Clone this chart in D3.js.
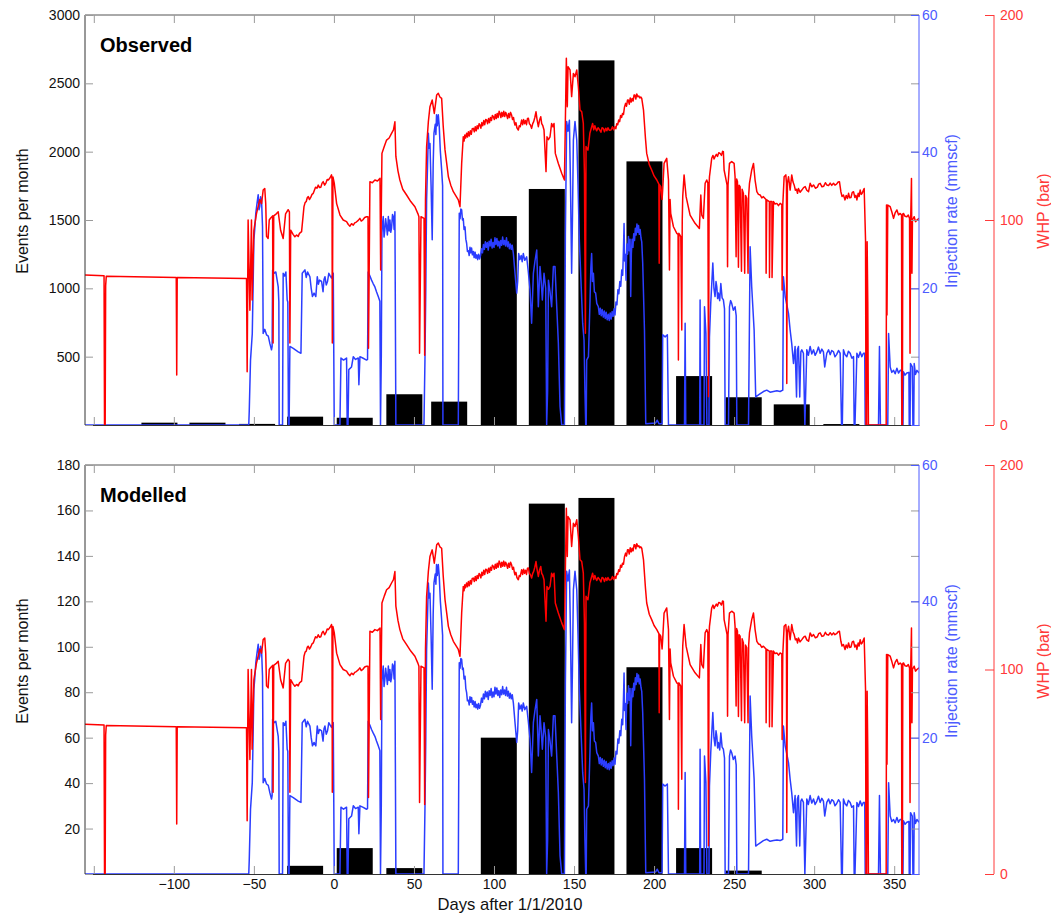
<!DOCTYPE html>
<html>
<head>
<meta charset="utf-8">
<script src="https://cdn.jsdelivr.net/npm/d3@7"></script>
<style>
  html, body { margin: 0; padding: 0; background: #fff; }
  svg { display: block; font-family: "Liberation Sans", Arial, Helvetica, sans-serif; }
</style>
</head>
<body>
<svg id="chart" width="1051" height="916"></svg>
<script>
// Monthly seismic event counts (bars) against well-head pressure and injection rate.
const months = ["2009-09", "2009-10", "2009-11", "2009-12", "2010-01", "2010-02", "2010-03", "2010-04",
                "2010-05", "2010-06", "2010-07", "2010-08", "2010-09", "2010-10", "2010-11", "2010-12"];
const observedEvents = [17, 17, 8, 61, 53, 225, 171, 1529, 1727, 2668, 1929, 358, 203, 151, 7, 0];
const modelledEvents = [0, 0, 0, 3.6, 11.4, 2.6, 0, 60, 163, 165.5, 91, 11.4, 1.5, 0, 0, 0];

const xTicks = [-150, -100, -50, 0, 50, 100, 150, 200, 250, 300, 350];
const observedTicks = [0, 500, 1000, 1500, 2000, 2500, 3000];
const modelledTicks = [0, 20, 40, 60, 80, 100, 120, 140, 160, 180];
const rateTicks = [0, 20, 40, 60];
const whpTicks = [0, 100, 200];

// Well-head pressure (bar), [day after 1/1/2010, value]
const whp = [
  [-155.5, 73.2], [-143.6, 72.8], [-143.3, 0], [-142.9, 0], [-142.6, 68], [-142.2, 72.6],
  [-98.5, 72.0], [-98.2, 24.4], [-97.9, 72.0],
  [-54.6, 71.5], [-54.2, 26.0], [-53.6, 100], [-52.5, 56], [-51.5, 100], [-51.1, 61], [-50, 95],
  [-48.4, 103], [-47.5, 106], [-46.3, 110], [-45.2, 108], [-44.2, 114.6], [-43.2, 115.4], [-42.6, 108],
  [-42.1, 92], [-41.1, 91], [-40.4, 100], [-39.5, 101], [-38.3, 102], [-38.0, 40], [-37.6, 102],
  [-36, 103], [-34.8, 104], [-33.3, 95], [-31.7, 91], [-30.2, 103], [-28.6, 105], [-27.8, 104],
  [-27.5, 40], [-27.0, 95], [-25.5, 93], [-24.4, 91.8], [-23.3, 92.7], [-22.3, 92], [-21.5, 93.5],
  [-20.2, 94.3], [-18.7, 106.5], [-18, 108.5], [-17.3, 109], [-16.6, 111], [-16.0, 111.4],
  [-15.3, 110], [-14.5, 111], [-13.7, 112.5], [-12.9, 113], [-12.2, 114.5], [-11.5, 116],
  [-10.6, 115.5], [-9.8, 117], [-9, 115.8], [-8.2, 116], [-7.4, 118], [-6.7, 118.7], [-5.8, 117],
  [-5, 118], [-4.2, 119.8], [-3.5, 119.5], [-2.5, 120.5], [-1.5, 122], [-1.2, 120], [-1.0, 40],
  [-0.6, 121], [0.2, 118], [1.7, 108], [3.8, 102.4], [5.8, 100], [7.9, 99.2], [9, 97.8], [10, 97],
  [11, 98.2], [12.1, 97.5], [13, 98.6], [14, 99], [15.2, 99.8], [16.2, 100.8], [17.1, 99.5], [18, 100],
  [19.2, 101.2], [20.4, 101.6], [21.3, 101.6], [21.6, 37.4], [22.5, 118.7], [24, 118.2], [25.6, 119.5],
  [27.2, 119], [28.8, 120.3], [29.2, 75.6], [30.0, 132.5], [31.5, 136], [32.9, 139], [34.5, 140],
  [36.0, 142.3], [37.2, 144], [38.1, 147.9], [38.7, 131], [40, 124], [41.2, 119.5], [43, 115],
  [45.4, 112.2], [48, 109], [50.6, 106.5], [52.5, 103], [53.1, 101.6], [53.5, 35], [54.4, 101.6],
  [56.3, 100.8], [56.7, 34], [57.2, 110], [57.9, 135.7], [59, 148], [60.0, 155.3], [61.4, 158.5],
  [62.7, 152], [64.2, 161], [65.2, 161.8], [66.2, 160], [67.3, 159.3], [68.3, 145.5], [69.4, 134.2],
  [71.5, 121.1], [73, 117], [74.6, 113.8], [77.7, 109.8], [78.75, 106.5], [79.8, 127.6],
  [80.8, 140.6], [81.3, 138.5], [81.8, 141.5], [82.3, 140], [82.9, 142.3], [83.5, 140.5], [84, 143],
  [84.6, 141], [85.2, 143.5], [85.8, 141.8], [86.4, 144.5], [87.1, 144.7], [87.7, 143], [88.3, 145.5],
  [88.9, 143.5], [89.5, 146], [90.1, 144.5], [90.7, 147], [91.25, 146.3], [91.8, 144.8], [92.4, 147.5],
  [93, 146], [93.6, 148.5], [94.2, 146.5], [94.8, 149], [95.4, 148.8], [96, 147], [96.6, 149.5],
  [97.2, 147.5], [97.8, 150], [98.4, 148.5], [99, 151], [99.6, 150.4], [100.2, 149], [100.8, 151.5],
  [101.4, 149.5], [102, 152], [102.6, 150], [103.2, 153], [103.75, 152], [104.3, 150], [104.9, 152.5],
  [105.5, 150.5], [106.1, 153], [106.7, 150.5], [107.3, 152.5], [107.9, 151.2], [108.5, 149.5],
  [109.1, 152], [109.7, 150], [110.3, 152.5], [111.0, 151.2], [111.6, 149], [112.2, 150],
  [112.7, 147.5], [113.1, 146.3], [113.7, 147.5], [114.3, 145], [115.2, 143.9], [115.8, 146],
  [116.4, 145.5], [117.3, 148.8], [117.9, 146.5], [118.5, 149], [119.1, 147], [119.7, 148.5],
  [120.3, 146.5], [120.9, 149.5], [121.5, 149.6], [122.1, 147], [122.7, 146.5], [123.5, 144.7],
  [124.2, 147], [124.8, 148], [125.5, 150], [126.25, 152.8], [126.9, 149], [127.7, 145.5],
  [128.4, 148.5], [129.2, 150.4], [129.8, 147], [130.5, 146], [131.25, 143.9], [132.5, 123.6],
  [133.1, 140.6], [134, 139.2], [135.0, 140.6], [136.0, 147.1], [136.8, 145.5], [137.5, 147.1],
  [138.3, 132.5], [140.2, 127.6], [142.3, 122.8], [144.0, 119.5], [144.6, 148.8], [145.2, 178.9],
  [145.8, 155.3], [146.25, 174.8], [147.5, 173.2], [148.5, 160.2], [149.6, 171.5], [150.6, 169.9],
  [151.7, 173.2], [152.7, 165], [153.75, 153.7], [154.8, 152.8], [155.8, 147.1], [156.5, 122.8],
  [157.1, 44.7], [157.5, 135.8], [158.7, 134.1], [159.9, 142.3], [161.6, 147.1], [162.3, 144],
  [163, 146], [163.5, 144.7], [164.2, 143.5], [165, 145], [166, 144], [166.8, 142.8], [167.5, 145],
  [168.3, 144.7], [169, 143], [169.8, 144.8], [170.5, 143.5], [171.2, 145], [172, 143.8],
  [173.1, 143.9], [174, 145.5], [174.7, 144], [175.5, 145.5], [176.1, 144.5], [176.7, 147],
  [177.3, 146.5], [177.9, 148.8], [178.5, 148], [179.1, 151], [179.7, 150], [180.3, 152],
  [180.9, 151.5], [181.5, 155], [182.2, 156.9], [182.8, 155.5], [183.4, 158.5], [183.9, 158.5],
  [184.5, 156.5], [185.1, 159.5], [185.7, 157.5], [186.3, 159.3], [186.9, 158], [187.5, 161],
  [188, 161], [188.6, 159], [189.2, 161.5], [189.9, 160.1], [190.5, 160.5], [191.1, 159.5],
  [191.7, 160], [192.3, 159.3], [193.4, 153.6], [194.6, 140], [195.4, 132.5], [197, 127],
  [198.5, 124.4], [200, 121.5], [201.7, 119.5], [203.0, 117.5], [203.2, 78.9], [203.5, 117.1],
  [204.2, 116.3], [205.0, 110], [205.4, 115], [206.25, 127.6], [207.9, 130.1], [209.0, 119.5],
  [209.6, 75.6], [210.0, 110], [210.4, 103.2], [212.1, 96.7], [214.2, 93.5], [215.0, 93],
  [215.2, 31.7], [215.5, 93.5], [216.7, 91.9], [217.3, 46.3], [217.6, 100], [217.9, 111.4],
  [218.75, 122], [220.0, 111.4], [222.5, 102.4], [225.6, 98.4], [228.3, 95.9], [229.2, 112.2],
  [229.8, 102.4], [230.8, 100.8], [231.9, 117.9], [232.9, 119.5], [233.6, 118], [234.0, 13.8],
  [234.4, 118], [234.6, 121.1], [236.0, 130.1], [236.8, 131.5], [237.5, 129.8], [238.1, 130.9],
  [238.9, 132], [239.6, 131], [240.4, 132.8], [241.25, 132.5], [242.1, 131.5], [242.8, 133.5],
  [243.3, 133.3], [243.75, 124.4], [245.0, 119.5], [245.6, 117], [245.9, 77.2], [246.2, 117],
  [247.1, 127.6], [248.5, 128.5], [250.0, 127.6], [250.6, 121.1], [251.25, 82.1], [251.6, 120],
  [252.1, 118.7], [252.7, 77], [253.1, 117], [253.75, 116.3], [254.6, 75], [255.0, 115], [255.8, 113],
  [256.6, 74], [257.1, 112], [257.9, 110.6], [258.7, 74], [259.1, 112], [259.6, 117.9], [261.0, 124.4],
  [262.1, 127.6], [263.1, 119.5], [264.2, 113.8], [265.2, 112.5], [266.25, 112.2], [267.3, 110.8],
  [268.3, 111.4], [269.9, 110], [270.0, 74], [270.4, 109.8], [272.0, 109], [272.1, 72], [272.5, 109],
  [273.6, 109], [273.7, 72], [274.6, 109], [275.6, 107.8], [276.7, 108.1], [277.7, 107], [278.75, 108.1],
  [279.8, 107.5], [280.0, 65.8], [280.4, 107.3], [281.25, 121.1], [282.3, 122], [282.7, 118],
  [282.9, 20.3], [283.3, 118], [284.0, 121.1], [285.0, 114.6], [286.0, 122], [286.8, 118.5],
  [287.5, 117.1], [288.3, 114.5], [289, 115], [289.6, 113], [290.2, 115.4], [291.2, 113.5],
  [292.3, 114.6], [293.4, 115.8], [294.4, 116.3], [295.4, 114.5], [296.5, 113.8], [297.5, 117.9],
  [298.6, 116.2], [299.6, 117.1], [300.8, 115.5], [302, 116], [302.8, 117.5], [303.75, 117.9],
  [304.9, 116.2], [306, 116.5], [307, 118.2], [307.9, 117.1], [309, 116.8], [310, 118], [311, 116.9],
  [312.1, 117.9], [313, 117], [314, 117.5], [315, 118.5], [315.8, 118.7], [316.7, 113.8],
  [317.4, 111.5], [318.3, 112.2], [319.3, 109.8], [320, 112], [320.8, 110.5], [321.5, 113],
  [322.2, 110.8], [323, 111], [323.8, 113.5], [324.6, 113.8], [325.4, 111], [326.1, 112],
  [326.7, 109.8], [327.5, 113], [328.1, 111.5], [328.75, 114.6], [329.4, 112.5], [330, 113],
  [330.6, 114.2], [331.25, 115.4], [332.1, 90.2], [332.4, 0], [332.8, 0], [333.1, 89.4],
  [333.5, 60], [333.9, 0], [345.0, 0], [345.2, 107.3], [345.5, 53.7], [346.0, 107.3], [347.5, 106.5],
  [348.5, 104], [349.6, 100.8], [350.6, 103.5], [351.7, 104.9], [352.7, 102.5], [353.75, 103.2],
  [354.6, 102.4], [354.8, 0], [355.1, 0], [355.4, 103], [355.8, 103.2], [356.8, 101.8],
  [357.9, 101.6], [358.8, 102.4], [359.6, 100.8], [359.9, 35], [360.3, 100], [360.8, 120.3],
  [361.1, 74], [361.4, 100], [362.5, 101.6], [363.3, 99.2], [364.2, 100], [365.5, 100.8]
];

// Injection rate (mmscf), [day after 1/1/2010, value]
const injection = [
  [-155.5, 0], [-53.2, 0], [-52.9, 2], [-52.1, 9.5], [-51.0, 13.4], [-50.5, 20], [-50.0, 27.1],
  [-49.5, 28.5], [-48.8, 31.0], [-48, 32.5], [-47.3, 33.7], [-46.8, 31.5], [-46.3, 32.0], [-45.8, 33.4],
  [-45.2, 32.9], [-44.6, 29.0], [-44.2, 13.4], [-43.2, 14], [-42.1, 13.2], [-41, 13.0], [-40.0, 11.9],
  [-39.0, 11.0], [-38.6, 11.5], [-38.3, 22.7], [-37.3, 22.2], [-36.3, 22.4], [-34.8, 20.2], [-34.4, 18],
  [-34.2, 0], [-32.1, 0], [-31.7, 22.2], [-30.8, 21.8], [-30.0, 22.4], [-29.2, 18.3], [-28.8, 18],
  [-28.4, 0], [-28.0, 0], [-27.5, 11.5], [-25.4, 11.2], [-22.3, 10.7], [-20.6, 10.5], [-19.8, 22.2],
  [-18.1, 22.7], [-17.3, 21.6], [-16.5, 22.4], [-15.0, 21.7], [-14.2, 20], [-13.4, 18.8], [-12.4, 19.3],
  [-11.3, 18.8], [-10.4, 21.7], [-9.7, 20.6], [-9, 21.2], [-7.7, 21.0], [-6.8, 19.5], [-6.2, 21.3],
  [-5.6, 21.7], [-4.8, 20.5], [-4, 21], [-3.2, 22.2], [-2.5, 21.9], [-1.5, 21.5], [-0.4, 22.2],
  [0.2, 0], [3.75, 0], [4.4, 9.8], [6, 9.5], [7.9, 9.8], [8.3, 0], [8.8, 0], [9.3, 8.1],
  [11.0, 8.5], [12.1, 10.0], [13.5, 9.6], [15.2, 9.8], [15.6, 5.9], [16.25, 10.0], [18, 9.8],
  [20.4, 9.5], [21.0, 9.6], [21.4, 22.4], [22.5, 21.8], [23.5, 21.2], [24.5, 20.7], [25.6, 20.2],
  [26.6, 19.5], [27.7, 18.8], [28.7, 18.1], [29.1, 0], [29.6, 10], [30.0, 28.1], [30.4, 29.5],
  [30.8, 30.5], [31.3, 27.5], [31.8, 28.5], [32.3, 30.2], [32.9, 29.0], [33.4, 27.8], [34, 30.5],
  [34.5, 28.4], [35.0, 30.0], [35.5, 28.2], [36, 28.8], [36.6, 30.8], [37.1, 30.5], [37.6, 28.6],
  [38.1, 31.2], [38.7, 0], [56.25, 0], [56.9, 10.0], [57.4, 20], [57.9, 32.9], [58.5, 38],
  [59.0, 42.7], [59.5, 40.5], [60.0, 41.2], [60.7, 35], [61.4, 27.1], [62.0, 38], [62.5, 42.7],
  [63.3, 44], [63.7, 42.5], [64.1, 45.4], [64.6, 43.8], [65.2, 45.4], [65.8, 43.7], [66.5, 40],
  [67.3, 37.3], [67.9, 35], [68.1, 0], [77.7, 0], [78.3, 31.0], [78.8, 30.2], [79.3, 31.6],
  [79.8, 31.5], [80.3, 30.0], [80.8, 30.2], [81.3, 28.6], [81.9, 29.0], [82.4, 27.2], [82.9, 26.6],
  [83.4, 25.4], [84, 25.5], [84.5, 24.8], [85, 26.0], [85.5, 25.2], [86, 25.9], [86.5, 24.9],
  [87.1, 25.4], [87.6, 24.5], [88.2, 25.3], [88.7, 24.4], [89.3, 24.9], [89.8, 24.2], [90.4, 25.0],
  [91, 24.3], [91.6, 24.8], [92.2, 25.8], [92.8, 25.2], [93.4, 26.4], [94, 25.7], [94.6, 26.8],
  [95.2, 26.0], [95.8, 26.7], [96.4, 25.6], [97, 26.9], [97.6, 26.2], [98.2, 27.2], [98.8, 25.9],
  [99.4, 26.7], [100, 26.0], [100.6, 27.4], [101.2, 26.4], [101.8, 27.3], [102.4, 26.2], [103, 26.9],
  [103.6, 25.9], [104.2, 27.0], [104.8, 26.3], [105.4, 27.5], [106, 26.4], [106.6, 27.0],
  [107.2, 26.2], [107.8, 27.4], [108.4, 26.1], [109, 26.8], [109.6, 25.8], [110.2, 26.5],
  [110.8, 25.7], [111.4, 26.3], [112.1, 25.1], [113.2, 22], [114.2, 19.3], [114.8, 21], [115.4, 25.1],
  [116.2, 24.2], [117, 24.8], [117.6, 23.9], [118.3, 25.1], [119.2, 24.1], [120.4, 24.6],
  [121.4, 22.5], [122.5, 19.8], [123.5, 14.9], [124.6, 22.2], [125.6, 24], [126.7, 25.6],
  [127.7, 17.3], [128.75, 23.2], [129.5, 21], [130.2, 18.3], [131.25, 22.2], [132.3, 20], [132.9, 0],
  [133.5, 5], [134.0, 21.2], [135, 19.5], [136.0, 17.3], [137.1, 23.2], [138.1, 23.2], [139.2, 17.3],
  [140.2, 12], [141.25, 2.7], [142.3, 0], [144.0, 0], [144.6, 28.0], [145.4, 44.4], [146.2, 43],
  [147.1, 44.6], [147.8, 35], [148.5, 22.2], [149.0, 30], [149.6, 41.7], [150.6, 44.4], [151.7, 41.7],
  [152.5, 35], [153.3, 27.1], [154.4, 20.7], [155.4, 14.9], [156.25, 12.4], [156.8, 5], [157.3, 0],
  [157.6, 0], [157.9, 9.5], [159.0, 10.0], [160.0, 18.3], [160.5, 23], [161.0, 25.1], [161.5, 21],
  [162.1, 22.2], [162.7, 19.5], [163.5, 19.3], [164.2, 17.8], [165.2, 17.3], [165.8, 16.2],
  [166.4, 17.1], [167, 16.0], [167.6, 16.9], [168.3, 15.8], [168.9, 16.7], [169.5, 15.6],
  [170.1, 16.5], [170.7, 15.4], [171.4, 16.2], [172, 15.3], [172.6, 16.4], [173.2, 15.5],
  [173.8, 16.6], [174.4, 15.9], [175, 17.0], [175.6, 16.1], [176.2, 18.0], [176.8, 17.6],
  [177.4, 19.8], [178, 19.2], [178.6, 21.0], [179.2, 20.3], [179.8, 22.7], [180.4, 21.9], [180.9, 26],
  [181.25, 29.5], [181.6, 24], [182.0, 25], [182.5, 21.2], [183.0, 26.5], [183.5, 25], [184.0, 27.6],
  [184.5, 25.5], [185.0, 27.2], [185.4, 18.8], [185.8, 25], [186.3, 27.2], [186.8, 26.0],
  [187.3, 28.0], [187.8, 27.0], [188.3, 28.8], [188.8, 27.8], [189.3, 29.4], [189.8, 28.2],
  [190.3, 29.2], [190.8, 27.9], [191.3, 28.6], [191.8, 27.4], [192.3, 26.8], [192.9, 23.7],
  [194.0, 13.9], [194.8, 0.2], [201, 0.3], [202, 0.7], [203, 0.2], [205.0, 0.2], [205.4, 13.2],
  [206.9, 12.9], [208.3, 13.2], [209.0, 0], [219.0, 0], [219.4, 14.9], [219.8, 0], [228.5, 0],
  [228.75, 18.3], [229.1, 0], [231.2, 0], [231.5, 17.3], [232.4, 13.4], [233.0, 0], [234.3, 0],
  [234.6, 12.9], [235.4, 17.8], [236.0, 20.5], [236.7, 23.7], [237.4, 20], [238.1, 18.8], [238.7, 21],
  [239.2, 20.2], [239.7, 18.5], [240.2, 19.3], [241, 18.2], [241.7, 20.7], [242.5, 18.6], [243.3, 18.3],
  [244.0, 17], [244.4, 0], [246.5, 0], [247.1, 17.3], [247.8, 18.2], [248.5, 17.8], [249.5, 16.8],
  [250.6, 17.3], [251.3, 16], [251.7, 0], [259.0, 0], [260.0, 26.1], [261.0, 20.2], [262.5, 13.9],
  [263.5, 4.1], [265.2, 4.4], [268.3, 4.9], [270.4, 5.1], [272.5, 4.8], [274.6, 4.9], [276.7, 5.0],
  [278.75, 4.9], [280.4, 5.1], [280.8, 21.7], [281.9, 18.8], [283, 17.5], [284.0, 16.3], [285.0, 13.9],
  [286.0, 11.9], [287.1, 9.0], [288.1, 11.5], [289.0, 4.1], [289.5, 11.0], [290.2, 11.5], [291.0, 4.1],
  [291.7, 10.7], [292.3, 11.0], [293.3, 10.5], [294.2, 0], [295.4, 11.0], [296.4, 10.2], [297.5, 11.5],
  [298.5, 10.4], [299.6, 11.0], [300.6, 10.2], [301.7, 10.7], [302.7, 11.4], [303.75, 10.5],
  [304.8, 11.1], [305.8, 10.7], [306.6, 8.5], [307.9, 10.5], [309, 11.0], [310, 10.3], [311, 10.9],
  [312.1, 10.7], [313, 10.0], [314, 10.3], [315.2, 10.9], [316.25, 10.5], [317.1, 0], [317.6, 0],
  [318.3, 11.0], [319.3, 10.3], [320.4, 10.0], [321.4, 10.8], [322.5, 10.5], [323.5, 9.8],
  [324.6, 10.0], [325.0, 0], [325.5, 0], [326.7, 10.5], [327.7, 9.9], [328.75, 10.7], [329.8, 10.0],
  [330.8, 10.5], [331.6, 10.5], [331.9, 0], [340.2, 0], [340.8, 11.5], [341.4, 0], [346.0, 0],
  [346.5, 13.4], [347.5, 8.5], [348.5, 7.7], [349.6, 8.0], [350.6, 7.5], [351.7, 8.3], [352.7, 7.6],
  [353.75, 8.0], [354.6, 8.0], [354.8, 0], [355.5, 0], [355.8, 7.8], [356.8, 7.3], [357.9, 7.6],
  [359.2, 7.7], [359.4, 0], [359.9, 0], [360.2, 9.0], [361.3, 8.5], [361.7, 0], [362.2, 0],
  [362.5, 9.0], [363.3, 7.4], [364.2, 8.0], [365.5, 7.6]
];

const svg = d3.select("#chart");
const left = 85, right = 919, whpAxisX = 994;
const BLUE = "#2b3dff", BLUE_AXIS = "#4d5bff", RED = "#ff0000", RED_AXIS = "#ff3a3a";
const GRID_GREY = "#9a9a9a", FRAME = "#333";

const epoch = new Date(2010, 0, 1);
const parseMonth = d3.timeParse("%Y-%m");
const dayOf = d => d3.timeDay.count(epoch, d);
const monthStart = months.map(m => dayOf(parseMonth(m)));

const x = d3.scaleLinear().domain([-155.5, 365.5]).range([left, right]);

const panels = [
  { top: 15, bottom: 425, title: "Observed", events: observedEvents, max: 3000, ticks: observedTicks, xLabels: false },
  { top: 465, bottom: 874, title: "Modelled", events: modelledEvents, max: 180, ticks: modelledTicks, xLabels: true }
];

panels.forEach((p, i) => {
  const g = svg.append("g");
  const yEv = d3.scaleLinear().domain([0, p.max]).range([p.bottom, p.top]);
  const yRate = d3.scaleLinear().domain([0, 60]).range([p.bottom, p.top]);
  const yWhp = d3.scaleLinear().domain([0, 200]).range([p.bottom, p.top]);
  const clipId = "clip" + i;
  svg.append("clipPath").attr("id", clipId).append("rect")
    .attr("x", left).attr("y", p.top).attr("width", right - left).attr("height", p.bottom - p.top);

  const plot = g.append("g").attr("clip-path", `url(#${clipId})`);

  // monthly event bars
  plot.selectAll("rect.bar").data(p.events.map((v, k) => ({ start: monthStart[k], v })))
    .join("rect").attr("class", "bar")
    .attr("x", d => x(d.start + 1.75))
    .attr("width", d => x(d.start + 24.25) - x(d.start + 1.75))
    .attr("y", d => yEv(d.v))
    .attr("height", d => yEv(0) - yEv(d.v))
    .attr("fill", "#000");

  // injection rate
  plot.append("path").datum(injection)
    .attr("d", d3.line().x(d => x(d[0])).y(d => yRate(d[1])))
    .attr("fill", "none").attr("stroke", BLUE).attr("stroke-width", 1.5).attr("stroke-linejoin", "round");

  // well-head pressure
  plot.append("path").datum(whp)
    .attr("d", d3.line().x(d => x(d[0])).y(d => yWhp(d[1])))
    .attr("fill", "none").attr("stroke", RED).attr("stroke-width", 1.5).attr("stroke-linejoin", "round");

  // frame: left and top lines
  g.append("line").attr("x1", left).attr("x2", left).attr("y1", p.top).attr("y2", p.bottom)
    .attr("stroke", FRAME).attr("stroke-width", 1);
  g.append("line").attr("x1", left).attr("x2", right).attr("y1", p.top).attr("y2", p.top)
    .attr("stroke", "#555").attr("stroke-width", 1);

  // x ticks (bottom and mirrored top), pointing inward
  const xa = d3.axisBottom(x).tickValues(xTicks).tickSize(-8).tickSizeOuter(0).tickPadding(5)
    .tickFormat(d => (p.xLabels && d > -150) ? d3.format("")(d).replace("-", "\u2212") : "");
  const gx = g.append("g").attr("transform", `translate(0,${p.bottom})`).call(xa);
  gx.select(".domain").attr("stroke", FRAME);
  gx.selectAll(".tick line").attr("stroke", GRID_GREY);
  gx.selectAll(".tick text").attr("font-size", 14).attr("fill", "#111");
  const gxt = g.append("g").attr("transform", `translate(0,${p.top})`)
    .call(d3.axisTop(x).tickValues(xTicks).tickSize(-8).tickFormat(""));
  gxt.select(".domain").remove();
  gxt.selectAll(".tick line").attr("stroke", GRID_GREY);

  // left event axis (and mirrored ticks on the right side)
  const ya = d3.axisLeft(yEv).tickValues(p.ticks).tickSize(-8).tickPadding(5)
    .tickFormat(d => d === 0 ? "" : d);
  const gy = g.append("g").attr("transform", `translate(${left},0)`).call(ya);
  gy.select(".domain").remove();
  gy.selectAll(".tick line").attr("stroke", GRID_GREY);
  gy.selectAll(".tick text").attr("font-size", 14).attr("fill", "#111");
  const gyr = g.append("g").attr("transform", `translate(${right},0)`)
    .call(d3.axisRight(yEv).tickValues(p.ticks).tickSize(-8).tickFormat(""));
  gyr.select(".domain").remove();
  gyr.selectAll(".tick line").attr("stroke", GRID_GREY);

  // injection-rate axis on the right edge
  const gr = g.append("g").attr("transform", `translate(${right},0)`)
    .call(d3.axisRight(yRate).tickValues(rateTicks).tickSize(-8).tickPadding(3)
      .tickFormat(d => d === 0 ? "" : d));
  gr.select(".domain").attr("stroke", BLUE_AXIS).attr("d", `M0,${p.top}V${p.bottom}`);
  gr.selectAll(".tick line").attr("stroke", BLUE_AXIS);
  gr.selectAll(".tick text").attr("font-size", 14).attr("fill", BLUE_AXIS);

  // well-head pressure axis, offset to the right
  const gw = g.append("g").attr("transform", `translate(${whpAxisX},0)`)
    .call(d3.axisRight(yWhp).tickValues(whpTicks).tickSize(-9).tickPadding(6));
  gw.select(".domain").attr("stroke", RED_AXIS).attr("d", `M0,${p.top}V${p.bottom}`);
  gw.selectAll(".tick line").attr("stroke", RED_AXIS);
  gw.selectAll(".tick text").attr("font-size", 14).attr("fill", RED_AXIS);

  // axis titles
  const mid = p.top + 196;
  g.append("text").attr("transform", `translate(22,${mid}) rotate(-90)`).attr("dy", "0.35em")
    .attr("text-anchor", "middle").attr("font-size", 16).attr("fill", "#111").text("Events per month");
  g.append("text").attr("transform", `translate(951,${mid}) rotate(-90)`).attr("dy", "0.35em")
    .attr("text-anchor", "middle").attr("font-size", 16).attr("fill", BLUE_AXIS).text("Injection rate (mmscf)");
  g.append("text").attr("transform", `translate(1043,${mid}) rotate(-90)`).attr("dy", "0.35em")
    .attr("text-anchor", "middle").attr("font-size", 16).attr("fill", RED_AXIS).text("WHP (bar)");

  // panel label
  g.append("text").attr("x", 100).attr("y", p.top + 37).attr("font-size", 20).attr("font-weight", "bold")
    .attr("fill", "#000").text(p.title);
});

svg.append("text").attr("x", 510).attr("y", 910).attr("text-anchor", "middle")
  .attr("font-size", 16.6).attr("fill", "#111").text("Days after 1/1/2010");
</script>
</body>
</html>
